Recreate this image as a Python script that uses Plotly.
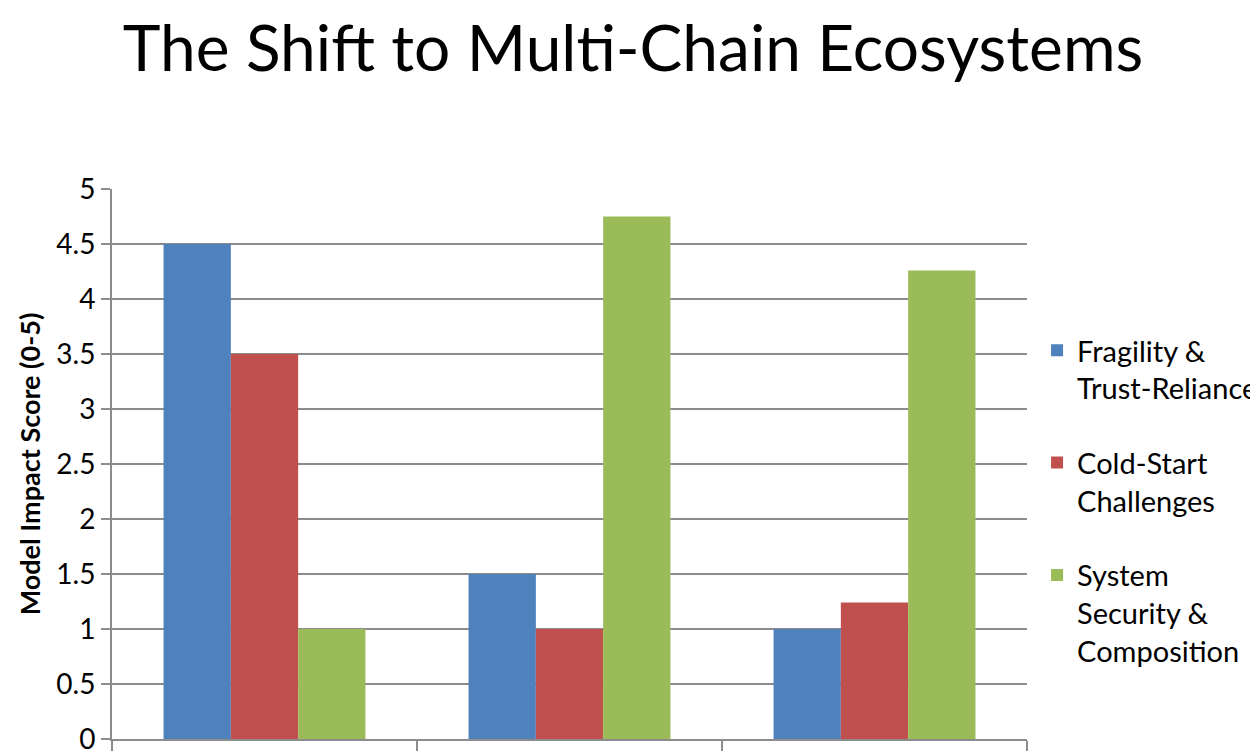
import plotly.graph_objects as go

categories = ["Bridge-Based Interop", "Shared Security Hubs", "Composable Multi-Chain"]
series_names = ["Fragility &<br>Trust-Reliance", "Cold-Start<br>Challenges", "System<br>Security &<br>Composition"]
fragility = [4.5, 1.5, 1.0]
cold_start = [3.5, 1.0, 1.24]
security = [1.0, 4.75, 4.26]
colors = ["#4F81BD", "#C0504D", "#9BBB59"]
y_ticks = [0, 0.5, 1, 1.5, 2, 2.5, 3, 3.5, 4, 4.5, 5]

FONT = "Lato"
W, H = 1250, 743  # page body adds an 8px margin
fig = go.Figure()
for i, (name, vals) in enumerate(zip(series_names, [fragility, cold_start, security])):
    fig.add_trace(go.Bar(x=categories, y=vals, name=name, marker_color=colors[i],
                         marker_line_width=0, legendgroup=f"g{i}"))

fig.update_layout(
    width=W, height=H,
    margin=dict(l=104, r=231, t=181, b=12, autoexpand=False),
    paper_bgcolor="white", plot_bgcolor="white",
    barmode="group", bargap=0.338, bargroupgap=0,
    title=dict(text="The Shift to Multi-Chain Ecosystems", x=0.5, xanchor="center",
               y=1 - 41 / H, yanchor="middle",
               font=dict(family=FONT, size=64, color="black")),
    font=dict(family=FONT, color="black"),
    legend=dict(x=1.011, xanchor="left", y=0.753, yanchor="top",
                font=dict(size=29, color="black"), valign="top",
                tracegroupgap=34, bgcolor="rgba(0,0,0,0)"),
    showlegend=True,
)
fig.update_xaxes(showticklabels=False, tickson="boundaries", ticks="outside", ticklen=10,
                 tickcolor="#8c8c8c", tickwidth=2, showline=True, linecolor="#8c8c8c",
                 linewidth=2, showgrid=False, automargin=False)
fig.update_yaxes(range=[0, 5], tickvals=y_ticks, ticks="outside", ticklen=9,
                 tickcolor="#8c8c8c", tickwidth=2, showline=True, linecolor="#8c8c8c",
                 linewidth=2, showgrid=True, gridcolor="#8c8c8c", gridwidth=2,
                 tickfont=dict(size=28, color="black"), ticksuffix="\u00a0\u00a0\u00a0",
                 ticklabeloverflow="allow",
                 title=dict(text="<b>Model Impact Score (0-5)</b>", standoff=8,
                            font=dict(size=27, color="black")),
                 zeroline=False, automargin=False)

fig.write_html("out.html")
